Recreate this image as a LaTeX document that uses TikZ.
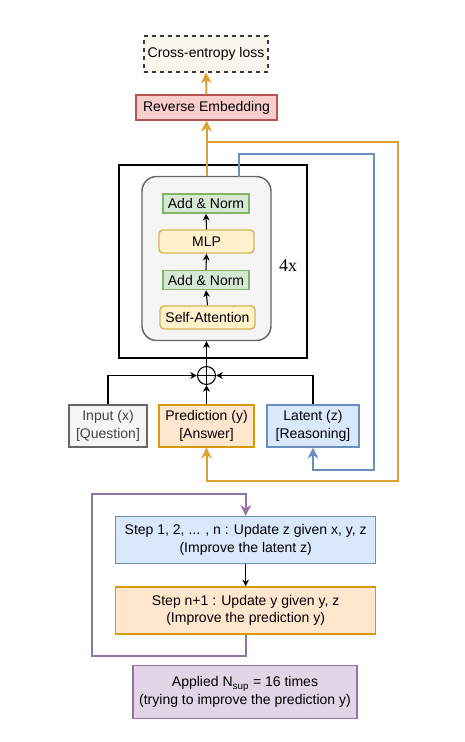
\documentclass[tikz,border=0pt]{standalone}
\usepackage{fontspec}
\setmainfont{Liberation Sans}
\newfontfamily\numserif{Liberation Serif}
\usetikzlibrary{arrows.meta}
\definecolor{ceFill}{HTML}{F9F7ED}
\definecolor{ceDraw}{HTML}{36393D}
\definecolor{reFill}{HTML}{F8CECC}
\definecolor{reDraw}{HTML}{B85450}
\definecolor{grFill}{HTML}{F5F5F5}
\definecolor{grDraw}{HTML}{666666}
\definecolor{gnFill}{HTML}{D5E8D4}
\definecolor{gnDraw}{HTML}{82B366}
\definecolor{ylFill}{HTML}{FFF2CC}
\definecolor{ylDraw}{HTML}{D6B656}
\definecolor{orFill}{HTML}{FFE6CC}
\definecolor{orDraw}{HTML}{D79B00}
\definecolor{blFill}{HTML}{DAE8FC}
\definecolor{blDraw}{HTML}{6C8EBF}
\definecolor{puFill}{HTML}{E1D5E7}
\definecolor{puDraw}{HTML}{9673A6}
\definecolor{orLine}{HTML}{DDA033}
\definecolor{grText}{HTML}{444444}
\begin{document}
\begin{tikzpicture}[x=0.75pt,y=-0.75pt,
  every node/.style={font=\fontsize{10.5}{13.2}\selectfont, align=center, inner sep=0pt},
  box/.style={draw, line width=1.1pt, minimum height=#1},
  box/.default=31.5pt,
  bktip/.style={-{Stealth[length=5pt,width=5pt,inset=1.5pt]}},
  bigtip/.style={-{Stealth[length=8pt,width=8pt,inset=2.5pt]}},
  blk/.style={draw=black, line width=0.8pt, bktip},
  oline/.style={draw=orLine, line width=1.5pt},
  bline/.style={draw=blDraw, line width=1.5pt},
  pline/.style={draw=puDraw, line width=1.5pt},
]
\useasboundingbox (0,0) rectangle (464,742);

% top
\node[box=27pt, dashed, draw=ceDraw, fill=ceFill, line width=0.8pt, minimum width=93pt] (ce) at (206,54) {Cross-entropy loss};
\node[box=18.75pt, draw=reDraw, fill=reFill, minimum width=105.75pt] (re) at (206.5,107.5) {Reverse Embedding};

% transformer block
\node[draw=black, line width=0.8pt, minimum width=141pt, minimum height=144.75pt] (blkbox) at (213,261.5) {};
\node[draw=grDraw, fill=grFill, line width=1.1pt, rounded corners=11pt, minimum width=96.75pt, minimum height=123pt] (gray) at (206.5,258.5) {};
\node[box=14.25pt, draw=gnDraw, fill=gnFill, minimum width=64.5pt] (an1) at (206,203.5) {Add \& Norm};
\node[box=17.25pt, draw=ylDraw, fill=ylFill, rounded corners=3pt, minimum width=71.25pt] (mlp) at (206.5,241.5) {MLP};
\node[box=14.25pt, draw=gnDraw, fill=gnFill, minimum width=64.5pt] (an2) at (206,280) {Add \& Norm};
\node[box=17.25pt, draw=ylDraw, fill=ylFill, rounded corners=3pt, minimum width=71.25pt] (sa) at (207.5,317.5) {Self-Attention};
\node[font=\numserif\fontsize{13.5}{14}\selectfont] (fx) at (288,266) {4x};

\draw[blk] (sa.north) -- (an2.south);
\draw[blk] (an2.north) -- (mlp.south);
\draw[blk] (mlp.north) -- (an1.south);

% plus
\node[draw=black, fill=white, circle, line width=0.8pt, minimum size=13.5pt] (plus) at (206.5,375.5) {};
\draw[line width=0.8pt] (plus.north) -- (plus.south) (plus.west) -- (plus.east);

% inputs
\node[box, draw=grDraw, fill=grFill, text=grText, minimum width=58.5pt] (inp) at (108,426) {Input (x)\\{}[Question]};
\node[box, draw=orDraw, fill=orFill, minimum width=71.25pt] (pred) at (206.5,426) {Prediction (y)\\{}[Answer]};
\node[box, draw=blDraw, fill=blFill, minimum width=69pt] (lat) at (313,426) {Latent (z)\\{}[Reasoning]};

\draw[blk] (inp.north) |- (plus.west);
\draw[blk] (lat.north) |- (plus.east);
\draw[blk] (pred.north) -- (plus.south);
\draw[blk] (plus.north) -- (gray.south);

% orange feedback
\coordinate (oj) at (206.5,141.7);
\coordinate (or1) at (398,141.7);
\coordinate (or2) at (398,481);
\draw[oline, bigtip] (gray.north) -- (re.south);
\draw[oline, bigtip] (re.north) -- (ce.south);
\draw[oline, bigtip, line join=miter] (oj) -- (or1) -- (or2) -| (pred.south);

% blue feedback
\coordinate (b0) at (239,176.7);
\coordinate (b1) at (374,154);
\coordinate (b2) at (374,470);
\draw[bline, bigtip] (b0) |- (b1) -- (b2) -| (lat.south);

% steps
\node[box=35.25pt, draw=blDraw, fill=blFill, minimum width=195pt] (s1) at (245.7,540) {Step 1, 2, ... , n : Update z given x, y, z\\(Improve the latent z)};
\node[box=35.25pt, draw=orDraw, fill=orFill, minimum width=195pt] (s2) at (245.7,610.5) {Step n+1 : Update y given y, z\\(Improve the prediction y)};
\draw[blk] (s1.south) -- (s2.north);

\coordinate (p1) at (92,656);
\coordinate (p2) at (92,494);
\draw[pline, bigtip] (s2.south) |- (p1) -- (p2) -| (s1.north);

\node[box=39.75pt, draw=puDraw, fill=puFill, minimum width=168pt] (app) at (245,692) {Applied N\textsubscript{sup} = 16 times\\(trying to improve the prediction y)};
\end{tikzpicture}
\end{document}
